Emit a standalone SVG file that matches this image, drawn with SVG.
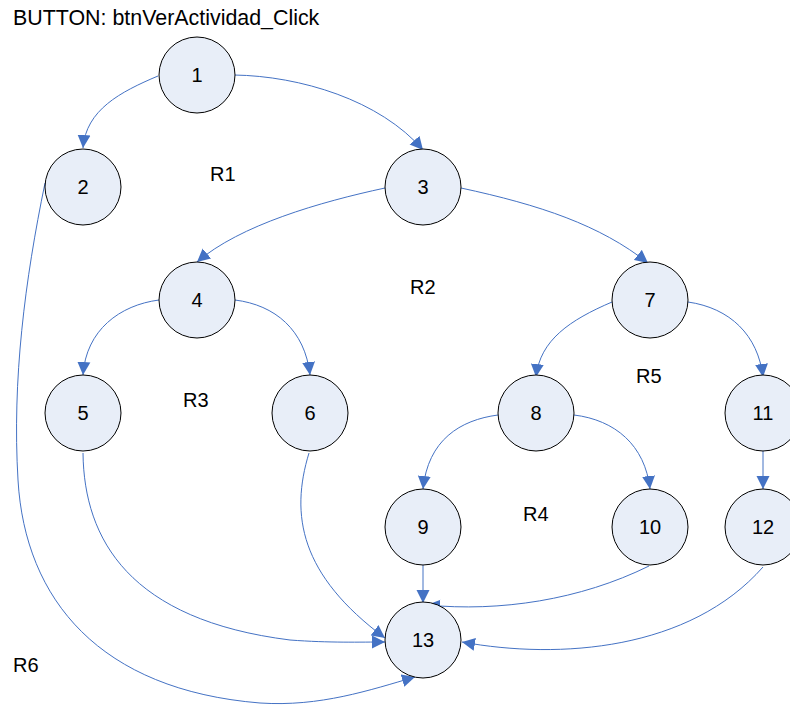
<svg xmlns="http://www.w3.org/2000/svg" width="790" height="706" viewBox="0 0 790 706">
<style>
.n circle{fill:#E8EEF8;stroke:#000;stroke-width:1}
text{font-family:"Liberation Sans",Arial,sans-serif;font-size:20px;fill:#000}
.n text{text-anchor:middle}
.e path{fill:none;stroke:#4472C4;stroke-width:1;marker-end:url(#ah)}
</style>
<defs>
<marker id="ah" markerUnits="userSpaceOnUse" markerWidth="14" markerHeight="14" refX="13" refY="7" orient="auto" viewBox="0 0 14 14">
<path d="M0,0.5 L13,7 L0,13.5 z" fill="#4472C4"/>
</marker>
</defs>
<rect width="790" height="706" fill="#fff"/>
<text x="13" y="25" style="font-size:21.4px">BUTTON: btnVerActividad_Click</text>
<g id="labels">
<text x="210" y="181">R1</text>
<text x="410" y="294">R2</text>
<text x="183" y="407">R3</text>
<text x="523" y="521">R4</text>
<text x="636" y="383">R5</text>
<text x="13" y="672">R6</text>
</g>
<g class="e" id="edges">
<path d="M158,76 C120,92 86,110 83,148"/>
<path d="M234,75 C300,76 380,100 423,150"/>
<path d="M385,188 C320,202 240,225 197,262"/>
<path d="M461,188 C540,205 600,225 648,263"/>
<path d="M159,300 C120,305 86,330 83,375"/>
<path d="M235,300 C275,305 305,330 310,375"/>
<path d="M612,302 C570,320 540,340 536,377"/>
<path d="M688,302 C730,308 758,335 763,377"/>
<path d="M498,415 C460,420 428,440 423,489"/>
<path d="M574,415 C615,420 645,445 650,489"/>
<path d="M763,448 L763,489"/>
<path d="M423,562 L423,603"/>
<path d="M649,566 C580,600 500,612 427,605"/>
<path d="M763,567 C690,650 560,660 462,642"/>
<path d="M83,453 C84,540 130,620 290,640 C330,643 360,642 385,642"/>
<path d="M309,453 C290,515 300,575 385,638"/>
<path d="M45,183 C25,280 12,380 18,480 C25,600 100,690 260,703 C320,707 370,690 415,677"/>
</g>
<g class="n" id="n1"><circle cx="197" cy="75" r="38"/><text x="197" y="82">1</text></g>
<g class="n" id="n2"><circle cx="83" cy="187" r="38"/><text x="83" y="194">2</text></g>
<g class="n" id="n3"><circle cx="423" cy="187" r="38"/><text x="423" y="194">3</text></g>
<g class="n" id="n4"><circle cx="197" cy="300" r="38"/><text x="197" y="307">4</text></g>
<g class="n" id="n7"><circle cx="650" cy="300" r="38"/><text x="650" y="307">7</text></g>
<g class="n" id="n5"><circle cx="83" cy="413" r="38"/><text x="83" y="420">5</text></g>
<g class="n" id="n6"><circle cx="310" cy="413" r="38"/><text x="310" y="420">6</text></g>
<g class="n" id="n8"><circle cx="536" cy="413" r="38"/><text x="536" y="420">8</text></g>
<g class="n" id="n11"><circle cx="763" cy="413" r="38"/><text x="763" y="420">11</text></g>
<g class="n" id="n9"><circle cx="423" cy="527" r="38"/><text x="423" y="534">9</text></g>
<g class="n" id="n10"><circle cx="650" cy="527" r="38"/><text x="650" y="534">10</text></g>
<g class="n" id="n12"><circle cx="763" cy="527" r="38"/><text x="763" y="534">12</text></g>
<g class="n" id="n13"><circle cx="423" cy="640" r="38"/><text x="423" y="647">13</text></g>
</svg>
